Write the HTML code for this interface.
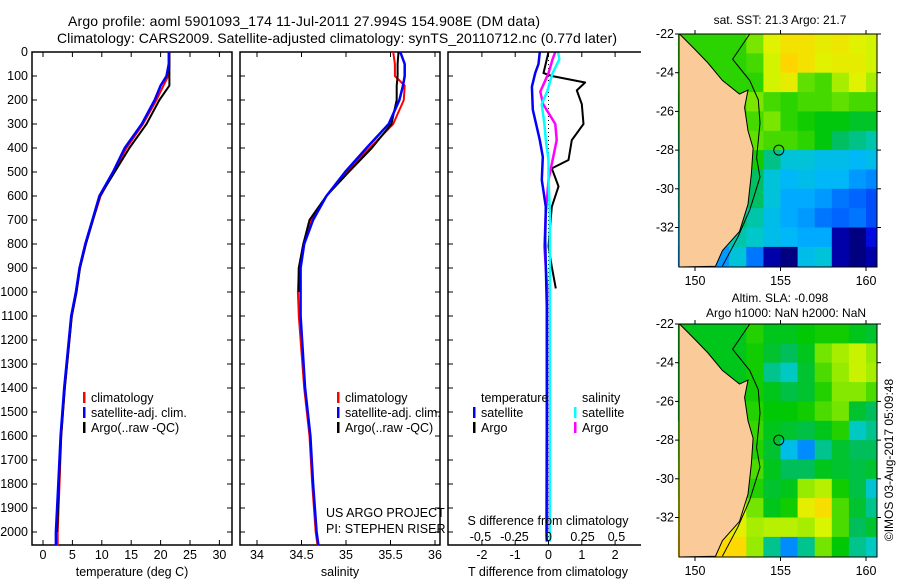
<!DOCTYPE html>
<html><head><meta charset="utf-8"><style>
body{margin:0;background:#fff;width:900px;height:580px;overflow:hidden}
svg{display:block;font-family:"Liberation Sans",sans-serif;font-size:12.5px}
text{fill:#000}
</style></head><body>
<svg id="s" width="900" height="580">
<text x="304" y="26" text-anchor="middle" font-size="14" textLength="472">Argo profile: aoml 5901093_174 11-Jul-2011 27.994S 154.908E (DM data)</text>
<text x="337" y="43" text-anchor="middle" font-size="14" textLength="560">Climatology: CARS2009. Satellite-adjusted climatology: synTS_20110712.nc (0.77d later)</text>
<g id="g"></g>
</svg>
<script>
// ---- profile data ----
const depths = [0,50,100,140,200,300,400,500,600,700,800,900,1000,1100,1400,1600,1800,2000,2055];
const tempClim = [21.5,21.5,21.3,20.5,19.3,17.0,14.2,12.0,9.8,8.5,7.3,6.3,5.7,4.9,3.7,3.1,2.8,2.5,2.5];
const tempSat  = [21.4,21.4,21.0,20.0,19.0,16.8,13.9,11.9,9.6,8.4,7.2,6.2,5.6,4.8,3.6,3.0,2.6,2.2,2.2];
const tempArgo = [21.5,21.5,21.5,21.5,19.8,17.6,14.7,12.2,9.7,8.5,7.3,6.3,5.7,4.9,3.7,3.1,2.7,2.4,null];
const salClim = [35.53,35.55,35.55,35.66,35.65,35.53,35.27,35.00,34.78,34.61,34.52,34.47,34.46,34.47,34.53,34.59,34.62,34.66,34.68];
const salSat  = [35.61,35.66,35.66,35.64,35.60,35.48,35.23,34.99,34.78,34.63,34.53,34.49,34.49,34.49,34.54,34.60,34.63,34.67,34.69];
const salArgo = [35.59,35.58,35.58,35.57,35.57,35.51,35.29,35.03,34.78,34.59,34.52,34.47,34.47,null,null,null,null,null,null];
// ---- difference data ----
const dDepthT = [0,50,88,145,240,367,437,533,645,783,1062,1500,2000,2040];
const tDiffSat = [-0.26,-0.3,-0.4,-0.5,-0.47,-0.26,-0.17,-0.2,-0.08,-0.1,-0.05,-0.05,-0.06,-0.05];
const dDepthA = [0,88,100,127,160,217,300,367,450,485,560,645,810,895,985];
const tDiffArgo = [0,-0.15,0.1,1.1,0.85,1.0,1.05,0.7,0.6,0.1,0.3,0.1,0,0.1,0.22];
const dDepthS = [0,30,88,165,217,300,367,450,533,672,810,978,1300,2000,2040];
const sDiffArgo = [0.05,0.03,0,-0.06,-0.04,0.05,0.06,0.03,0,-0.02,-0.03,-0.01,-0.01,-0.01,null];
const sDiffSat  = [0.07,0.08,0.03,-0.01,-0.05,-0.03,-0.02,0,0,0.01,0.01,0.01,0.01,0.01,0.01];
// ---- map data (rows lat -22.5..-33.5, cols lon 149.5..160.5) ----
const sst = [
[21.5,21.5,21.5,21.5,21.8,22.3,22.6,22.6,22.4,22.5,22.3,22.2],
[21.5,21.5,21.5,21.5,21.6,22.2,22.8,22.6,22.3,22.4,22.4,22.2],
[21.5,21.5,21.5,21.5,21.5,22.2,22.4,21.7,21.6,22.0,22.3,22.0],
[21.4,21.4,21.3,21.5,21.8,21.6,21.5,21.6,21.6,21.7,21.6,21.6],
[21.3,21.3,21.2,21.3,21.6,21.8,21.5,21.4,21.3,21.3,21.2,21.2],
[21.0,21.0,21.0,21.2,21.7,21.6,21.6,21.5,21.3,21.0,20.9,20.8],
[20.8,20.8,20.8,21.1,21.4,20.9,20.6,20.6,20.5,20.5,20.4,20.5],
[20.7,20.7,20.7,21.2,21.0,20.6,20.4,20.5,20.4,20.4,20.2,20.1],
[20.8,20.8,20.8,21.2,21.0,20.6,20.3,20.3,20.2,20.0,19.9,19.8],
[20.6,20.6,20.6,21.0,20.8,20.5,20.3,20.2,20.0,19.9,20.0,19.8],
[20.4,20.4,20.4,20.8,20.7,20.5,20.4,20.3,20.3,19.2,19.0,19.5],
[20.2,20.2,20.2,20.6,20.0,19.2,19.0,20.5,20.6,19.2,19.0,19.2]];
const sla = [
[-0.05,-0.05,-0.05,-0.05,-0.02,-0.05,-0.05,-0.04,-0.03,-0.03,-0.05,-0.06],
[-0.05,-0.05,-0.05,-0.05,-0.03,-0.06,-0.08,-0.05,0.02,0.05,0.07,0.04],
[-0.05,-0.05,-0.05,-0.05,-0.03,-0.10,-0.12,-0.06,0.00,0.04,0.07,0.05],
[-0.05,-0.05,-0.05,-0.05,-0.03,-0.05,-0.07,-0.06,-0.02,0.03,0.03,0.00],
[-0.05,-0.05,-0.05,0.00,-0.02,-0.04,-0.04,-0.03,0.00,0.02,-0.06,-0.08],
[0.01,0.01,0.01,0.01,-0.01,-0.05,-0.06,-0.07,-0.05,-0.02,-0.12,-0.10],
[0.02,0.02,0.02,0.02,-0.02,-0.06,-0.15,-0.20,-0.10,-0.06,-0.08,-0.08],
[0.04,0.04,0.04,0.04,0.00,-0.05,-0.08,-0.08,-0.05,-0.06,-0.07,-0.06],
[0.06,0.06,0.06,0.06,-0.02,-0.06,-0.05,0.04,0.06,-0.03,-0.07,-0.13],
[0.08,0.08,0.08,0.08,0.02,-0.05,-0.03,0.10,0.14,0.00,-0.06,-0.10],
[0.10,0.10,0.10,0.10,0.05,0.06,0.06,0.05,0.08,0.00,-0.08,-0.06],
[0.15,0.15,0.15,0.15,0.04,-0.10,-0.20,-0.10,0.02,-0.04,-0.10,-0.12]];
const coastLon = [149.1,150.0,150.76,151.6,152.6,153.1,152.9,153.1,153.4,153.3,153.1,152.6,151.6,151.2];
const coastLat = [-22,-22.8,-23.5,-24.4,-25.1,-24.9,-25.8,-27,-27.9,-29.2,-30.8,-32.2,-33.2,-34];
const isoLon = [153.2,152.2,153.2,153.7,153.8,153.6,153.8,153.2,152.5,151.6];
const isoLat = [-22,-23.3,-24.4,-25.4,-26.6,-28.4,-29.4,-31.1,-32.5,-34];
const floatPos = [154.9,-28.0];
const depthTicks=[0,100,200,300,400,500,600,700,800,900,1000,1100,1200,1300,1400,1500,1600,1700,1800,1900,2000];
const tempTicks=[0,5,10,15,20,25,30];
const salTicks=[34,34.5,35,35.5,36];
const tdTicks=[-2,-1,0,1,2];
const sdTicks=[-0.5,-0.25,0,0.25,0.5];
const latTicks=[-22,-24,-26,-28,-30,-32];
const lonTicks=[150,155,160];

const NS='http://www.w3.org/2000/svg';
const G=document.getElementById('g');
function el(t,a,p){const e=document.createElementNS(NS,t);for(const k in a)e.setAttribute(k,a[k]);(p||G).appendChild(e);return e;}
function txt(x,y,s,anchor,extra){const e=el('text',Object.assign({x:x,y:y,'text-anchor':anchor||'start'},extra||{}));e.textContent=s;return e;}

const PT=52,PB=545;
const yD=d=>PT+d*0.24;
const xT=v=>43+v*5.88;
const xS=v=>257+(v-34)*89;
const xTD=v=>548.5+v*33.3;
const xSD=v=>548.5+v*136;

function frame(x0,x1,name){
  const r=el('rect',{x:x0,y:PT,width:x1-x0,height:PB-PT,fill:'none',stroke:'#000','stroke-width':1.5});
  
  
  depthTicks.forEach(d=>{el('line',{x1:x0,x2:x0+5,y1:yD(d),y2:yD(d),stroke:'#000'});el('line',{x1:x1,x2:x1-5,y1:yD(d),y2:yD(d),stroke:'#000'});});
}
function line(xs,ys,fx,col,w,name){
  let pts=[];
  for(let i=0;i<xs.length;i++){if(xs[i]==null)continue;pts.push(fx(xs[i]).toFixed(1)+','+yD(ys[i]).toFixed(1));}
  const p=el('polyline',{points:pts.join(' '),fill:'none',stroke:col,'stroke-width':w,'stroke-linejoin':'round'});
  
  
}
function xticks(x0,x1,ticks,f,labels,ly){
  ticks.forEach((t,i)=>{const x=f(t);el('line',{x1:x,x2:x,y1:PB,y2:PB-5,stroke:'#000'});el('line',{x1:x,x2:x,y1:PT,y2:PT+5,stroke:'#000'});
    if(labels){const e=txt(x,ly,String(t),'middle');}});
}
// Panel 1
frame(32,232,'temperature-panel');
depthTicks.forEach(d=>{const e=txt(28,yD(d)+4,String(d),'end');});
xticks(32,232,tempTicks,xT,true,559);
line(tempClim,depths,xT,'#f00',2,'temp-climatology-line');
line(tempArgo,depths,xT,'#000',2,'temp-argo-line');
line(tempSat,depths,xT,'#00f',2.5,'temp-satellite-line');
txt(132,576,'temperature (deg C)','middle');
// Panel 2
frame(240,440,'salinity-panel');
xticks(240,440,salTicks,xS,true,559);
line(salClim,depths,xS,'#f00',2,'sal-climatology-line');
line(salArgo,depths,xS,'#000',2,'sal-argo-line');
line(salSat,depths,xS,'#00f',2.5,'sal-satellite-line');
txt(340,576,'salinity','middle');
txt(326,517,'US ARGO PROJECT');
txt(326,533,'PI: STEPHEN RISER');
// legends
function legend(x,y,col,label,name){const r=el('rect',{x:x,y:y-10,width:2.5,height:11,fill:col});const t=txt(x+8,y,label);}
legend(83,402,'#f00','climatology','legend-climatology');
legend(83,417,'#00f','satellite-adj. clim.','legend-satellite');
legend(83,432,'#000','Argo(..raw -QC)','legend-argo');
legend(337,402,'#f00','climatology','legend2-climatology');
legend(337,417,'#00f','satellite-adj. clim.','legend2-satellite');
legend(337,432,'#000','Argo(..raw -QC)','legend2-argo');
// Panel 3
el('line',{x1:xTD(0),x2:xTD(0),y1:PT,y2:PB,stroke:'#000','stroke-dasharray':'1,3'});
line(tDiffArgo,dDepthA,xTD,'#000',2,'tdiff-argo-line');
line(sDiffArgo,dDepthS,xSD,'#f0f',2.5,'sdiff-argo-line');
line(tDiffSat,dDepthT,xTD,'#00f',2.5,'tdiff-satellite-line');
line(sDiffSat,dDepthS,xSD,'#0ff',2.5,'sdiff-satellite-line');
frame(448,680,'difference-panel');
el('rect',{x:641,y:40,width:260,height:540,fill:'#fff'});
xticks(448,640,tdTicks,xTD,true,559);
sdTicks.forEach(t=>{const e=txt(xSD(t),541,String(t),'middle');});
txt(548,525,'S difference from climatology','middle');
txt(548,576,'T difference from climatology','middle');
txt(481,402,'temperature');
txt(582,402,'salinity');
legend(473,417,'#00f','satellite','legend-t-satellite');
legend(473,432,'#000','Argo','legend-t-argo');
legend(574,417,'#0ff','satellite','legend-s-satellite');
legend(574,432,'#f0f','Argo','legend-s-argo');

// ---- maps ----
const stops=[[0,[0,0,128]],[0.1,[0,0,220]],[0.2,[0,100,255]],[0.3,[0,180,255]],[0.38,[0,200,200]],[0.45,[0,190,90]],[0.52,[0,200,0]],[0.62,[120,230,0]],[0.72,[220,245,0]],[0.84,[255,215,0]],[1,[255,150,0]]];
function cmap(f){f=Math.max(0,Math.min(1,f));for(let i=1;i<stops.length;i++){if(f<=stops[i][0]){const a=stops[i-1],b=stops[i],t=(f-a[0])/(b[0]-a[0]);return 'rgb('+a[1].map((c,k)=>Math.round(c+(b[1][k]-c)*t)).join(',')+')';}}return 'rgb(255,150,0)';}
function drawMap(y0,grid,vmin,vmax,name){
  const X0=679,X1=877,Y1=y0+233;
  const lx=l=>695+(l-150)*17.1, ly=l=>y0+(-22-l)*19.35;
  const g=el('g',{});
  
  
  grid.forEach((row,r)=>row.forEach((v,c)=>{
    const cell=el('rect',{x:lx(149+c).toFixed(1),y:ly(-22-r).toFixed(1),width:17.6,height:19.9,fill:cmap((v-vmin)/(vmax-vmin))},g);
    
    
  }));
  let pts=coastLon.map((l,i)=>lx(l).toFixed(1)+','+ly(coastLat[i]).toFixed(1));
  pts.push(X0+','+Y1);pts.push(X0+','+y0);
  const land=el('polygon',{points:pts.join(' '),fill:'#facb98',stroke:'#000','stroke-width':1});
  
  
  const iso=el('polyline',{points:isoLon.map((l,i)=>lx(l).toFixed(1)+','+ly(isoLat[i]).toFixed(1)).join(' '),fill:'none',stroke:'#000','stroke-width':1});
  
  
  el('rect',{x:X1,y:y0-2,width:30,height:240,fill:'#fff'});
  el('rect',{x:X0-30,y:Y1,width:230,height:10,fill:'#fff'});
  const fl=el('circle',{cx:lx(floatPos[0]),cy:ly(floatPos[1]),r:5,fill:'none',stroke:'#000'});
  
  
  el('rect',{x:X0,y:y0,width:X1-X0,height:Y1-y0,fill:'none',stroke:'#000','stroke-width':1});
  latTicks.forEach(t=>{const y=ly(t);el('line',{x1:X0-4,x2:X0,y1:y,y2:y,stroke:'#000'});el('line',{x1:X1,x2:X1+4,y1:y,y2:y,stroke:'#000'});
    const e=txt(674,y+4,String(t),'end');});
  lonTicks.forEach(t=>{const x=lx(t);el('line',{x1:x,x2:x,y1:y0-4,y2:y0,stroke:'#000'});el('line',{x1:x,x2:x,y1:Y1,y2:Y1+4,stroke:'#000'});
    const e=txt(x,Y1+18,String(t),'middle');});
}
drawMap(34,sst,19,23.5,'sst-map');
drawMap(324,sla,-0.35,0.25,'sla-map');
txt(780,24,'sat. SST: 21.3 Argo: 21.7','middle',{'font-size':'12'});
txt(780,302,'Altim. SLA: -0.098','middle',{'font-size':'12'});
txt(786,317,'Argo h1000: NaN h2000: NaN','middle',{'font-size':'12'});
txt(0,0,'©IMOS 03-Aug-2017 05:09:48','middle',{transform:'translate(893,460) rotate(-90)','font-size':'12'});
</script>
</body></html>
